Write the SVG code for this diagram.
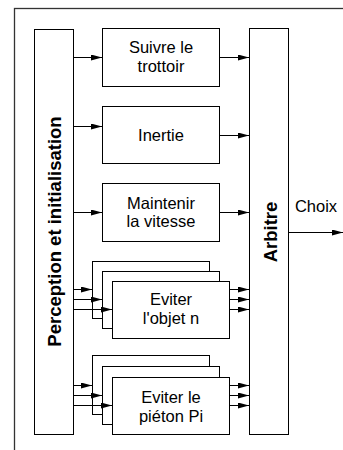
<svg xmlns="http://www.w3.org/2000/svg" width="343" height="450" viewBox="0 0 343 450">
<defs>
<marker id="ah" markerUnits="userSpaceOnUse" markerWidth="11" markerHeight="6" refX="11" refY="3" orient="auto">
<path d="M0,0 L11,3 L0,6 z" fill="#000"/>
</marker>
<style>
.box{fill:#fff;stroke:#000;stroke-width:1}
.t{font-family:"Liberation Sans",Arial,sans-serif;font-size:16.5px;fill:#000;text-anchor:middle}
.b{font-family:"Liberation Sans",Arial,sans-serif;font-size:18.5px;font-weight:bold;fill:#000;text-anchor:middle}
.c line{stroke:#000;stroke-width:1;marker-end:url(#ah)}
</style>
</defs>
<rect width="343" height="450" fill="#fff"/>
<rect x="14.5" y="8.5" width="340" height="450" fill="none" stroke="#333" stroke-width="1.3"/>
<g id="perception">
<rect class="box" x="34.5" y="29.5" width="39" height="405"/>
<text class="b" transform="translate(61,231.5) rotate(-90)">Perception et initialisation</text>
</g>
<g id="arbitre">
<rect class="box" x="249.5" y="28.5" width="39" height="406"/>
<text class="b" transform="translate(277,232) rotate(-90)">Arbitre</text>
</g>
<g id="suivre">
<rect class="box" x="102.5" y="28.5" width="117" height="58"/>
<text class="t" x="161" y="53">Suivre le</text>
<text class="t" x="161" y="72">trottoir</text>
</g>
<g id="inertie">
<rect class="box" x="102.5" y="106.5" width="117" height="57"/>
<text class="t" x="161" y="140.5">Inertie</text>
</g>
<g id="maintenir">
<rect class="box" x="102.5" y="183.5" width="117" height="58"/>
<text class="t" x="161" y="209">Maintenir</text>
<text class="t" x="161" y="227">la vitesse</text>
</g>
<g id="eviter-objet">
<rect class="box" x="92.5" y="261.5" width="117" height="57"/>
<rect class="box" x="102.5" y="271.5" width="117" height="57"/>
<rect class="box" x="112.5" y="281.5" width="117" height="57"/>
<text class="t" x="171" y="305">Eviter</text>
<text class="t" x="171" y="324">l'objet n</text>
</g>
<g id="eviter-pieton">
<rect class="box" x="92.5" y="355.5" width="117" height="59"/>
<rect class="box" x="102.5" y="366.5" width="117" height="58"/>
<rect class="box" x="112.5" y="377.5" width="117" height="57"/>
<text class="t" x="171" y="403">Eviter le</text>
<text class="t" x="171" y="421.5">piéton Pi</text>
</g>
<g id="connectors" class="c">
<line x1="73" y1="57.5" x2="102" y2="57.5"/>
<line x1="219" y1="57.5" x2="249" y2="57.5"/>
<line x1="73" y1="126.5" x2="102" y2="126.5"/>
<line x1="219" y1="135.5" x2="249" y2="135.5"/>
<line x1="73" y1="212.5" x2="102" y2="212.5"/>
<line x1="219" y1="212.5" x2="249" y2="212.5"/>
<line x1="73" y1="289.5" x2="92" y2="289.5"/>
<line x1="73" y1="299.5" x2="102" y2="299.5"/>
<line x1="73" y1="309.5" x2="112" y2="309.5"/>
<line x1="229" y1="289.5" x2="249" y2="289.5"/>
<line x1="229" y1="299.5" x2="249" y2="299.5"/>
<line x1="229" y1="309.5" x2="249" y2="309.5"/>
<line x1="73" y1="385.5" x2="92" y2="385.5"/>
<line x1="73" y1="395.5" x2="102" y2="395.5"/>
<line x1="73" y1="405.5" x2="112" y2="405.5"/>
<line x1="229" y1="385.5" x2="249" y2="385.5"/>
<line x1="229" y1="395.5" x2="249" y2="395.5"/>
<line x1="229" y1="405.5" x2="249" y2="405.5"/>
<line x1="288" y1="232.5" x2="343" y2="232.5" stroke="#444"/>
</g>
<text class="t" x="316" y="212">Choix</text>
</svg>
